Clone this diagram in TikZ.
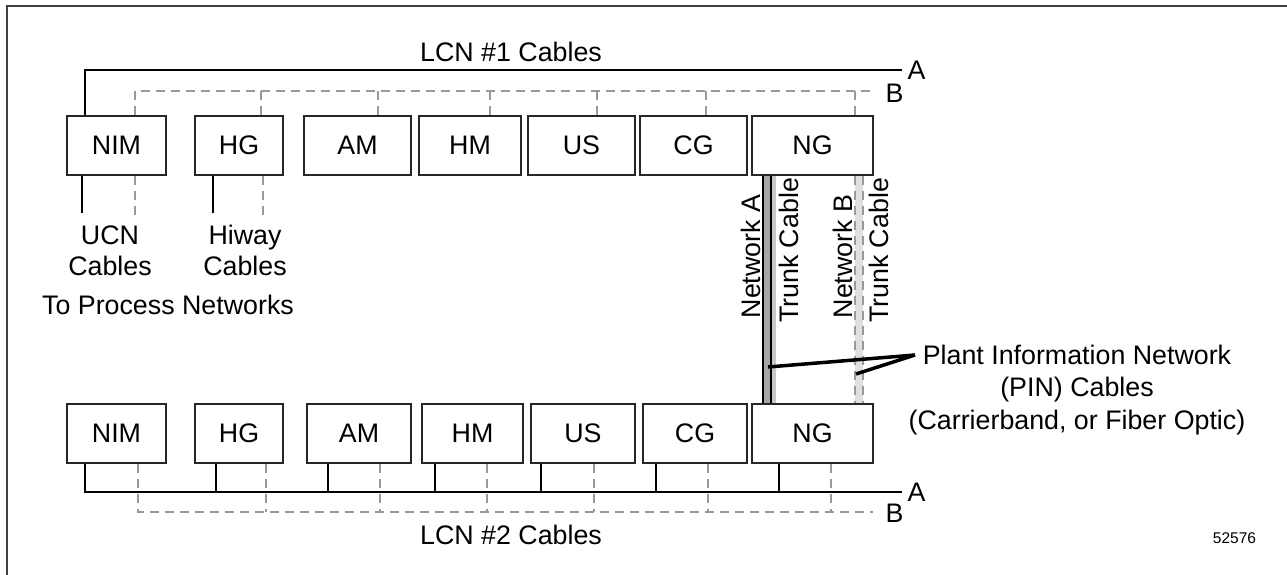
\documentclass[tikz,border=0pt]{standalone}
\usepackage{fontspec}
\setmainfont{Liberation Sans}
\usetikzlibrary{calc}

\begin{document}
\begin{tikzpicture}[x=1pt, y=-1pt,
	every node/.style={font=\fontsize{26.8}{31}\selectfont, inner sep=0pt, text=black},
	unitbox/.style={draw=black!85, line width=1.2pt, minimum height=59pt},
	cableA/.style={black, line width=1.3pt},
	cableB/.style={black!40, line width=1.3pt, dash pattern=on 9pt off 6pt},
	leader/.style={line width=3.5pt}]
	\useasboundingbox (0,0) rectangle (1287,575);
	\draw[black!75, line width=1.3pt] (7,575) -- (7,6) -- (1287,6);
	% LCN #1 modules
	\foreach \name/\cx/\w in {NIM/116.5/99, HG/239/88, AM/357.5/107, HM/470/102, US/581.5/107, CG/693.5/107, NG/812.5/121}
		\node[unitbox, minimum width=\w pt] (t\name) at (\cx,145.5) {\name};
	% LCN #2 modules
	\foreach \name/\cx/\w in {NIM/116.5/99, HG/239/88, AM/359/104, HM/472.5/101, US/583/104, CG/695/104, NG/812.5/121}
		\node[unitbox, minimum width=\w pt] (b\name) at (\cx,433.5) {\name};
	\coordinate (endA1) at (902,70);
	\coordinate (endB1) at (873,91);
	\coordinate (endA2) at (902,492);
	\coordinate (endB2) at (873,512);
	% LCN #1 cables
	\draw[cableA] ($(tNIM.north)+(-31.5,0)$) |- (endA1) node[anchor=west, xshift=5pt] (labA1) {A};
	\draw[cableB] ($(tNIM.north)+(18.5,0)$) |- (endB1) node[anchor=west, xshift=12pt, yshift=-2pt] (labB1) {B};
	\foreach \name/\dx in {HG/22, AM/20.5, HM/20, US/15.5, CG/12.5, NG/42.5}
		\draw[cableB] ($(t\name.north)+(\dx,0)$) -- ($(t\name.north |- endB1)+(\dx,0)$);
	\node[anchor=base] (lcn1) at (511,62) {LCN \#1 Cables};
	% LCN #2 cables
	\draw[cableA] ($(bNIM.south)+(-31.5,0)$) |- (endA2) node[anchor=west, xshift=5pt] (labA2) {A};
	\draw[cableB] ($(bNIM.south)+(21.5,0)$) |- (endB2) node[anchor=west, xshift=12pt, yshift=-1pt] (labB2) {B};
	\foreach \name/\dx in {HG/-23, AM/-31, HM/-37.5, US/-42, CG/-39, NG/-33.5}
		\draw[cableA] ($(b\name.south)+(\dx,0)$) -- ($(b\name.south |- endA2)+(\dx,0)$);
	\foreach \name/\dx in {HG/27, AM/21, HM/14.5, US/11, CG/13, NG/18.5}
		\draw[cableB] ($(b\name.south)+(\dx,0)$) -- ($(b\name.south |- endB2)+(\dx,0)$);
	\node[anchor=base] (lcn2) at (511,544) {LCN \#2 Cables};
	% process network cables
	\draw[cableA] ($(tNIM.south)+(-34.5,0)$) -- ++(0,37);
	\draw[cableB] ($(tNIM.south)+(18.5,0)$) -- ++(0,45);
	\draw[cableA] ($(tHG.south)+(-26,0)$) -- ++(0,37);
	\draw[cableB] ($(tHG.south)+(24,0)$) -- ++(0,45);
	\node[align=center] (ucn) at (110,250.5) {UCN\\Cables};
	\node[align=center] (hiway) at (245,250.5) {Hiway\\Cables};
	\node[anchor=base] (procnet) at (168,314) {To Process Networks};
	% PIN trunk cables
	\fill[black!35] ($(tNG.south)+(-49.5,0)$) rectangle ($(bNG.north)+(-41.5,0)$);
	\fill[black!22] ($(tNG.south)+(-41.5,0)$) rectangle ($(bNG.north)+(-36.5,0)$);
	\draw[line width=1.3pt] ($(tNG.south)+(-49.5,0)$) -- ($(bNG.north)+(-49.5,0)$);
	\draw[line width=1.3pt] ($(tNG.south)+(-41.5,0)$) -- ($(bNG.north)+(-41.5,0)$);
	\fill[black!12] ($(tNG.south)+(42.5,0)$) rectangle ($(bNG.north)+(50.5,0)$);
	\draw[cableB] ($(tNG.south)+(42.5,0)$) -- ($(bNG.north)+(42.5,0)$);
	\draw[cableB] ($(tNG.south)+(50.5,0)$) -- ($(bNG.north)+(50.5,0)$);
	\node[rotate=90, anchor=base] (netA) at (760,256.5) {Network A};
	\node[rotate=90, anchor=base] (trunkA) at (798,250.5) {Trunk Cable};
	\node[rotate=90, anchor=base] (netB) at (852,256.5) {Network B};
	\node[rotate=90, anchor=base] (trunkB) at (888,250.5) {Trunk Cable};
	% PIN callout
	\node[align=center, font=\fontsize{26.8}{32.5}\selectfont] (pin) at (1077,390) {Plant Information Network\\(PIN) Cables\\(Carrierband, or Fiber Optic)};
	\coordinate (pinTip) at (915,355);
	\coordinate (tapA) at (768,367);
	\coordinate (tapB) at (856,374);
	\draw[leader] (pinTip) -- (tapA);
	\draw[leader] (pinTip) -- (tapB);
	\node[anchor=base, font=\fontsize{15.5}{18}\selectfont] (fignum) at (1234.5,543) {52576};
\end{tikzpicture}
\end{document}
